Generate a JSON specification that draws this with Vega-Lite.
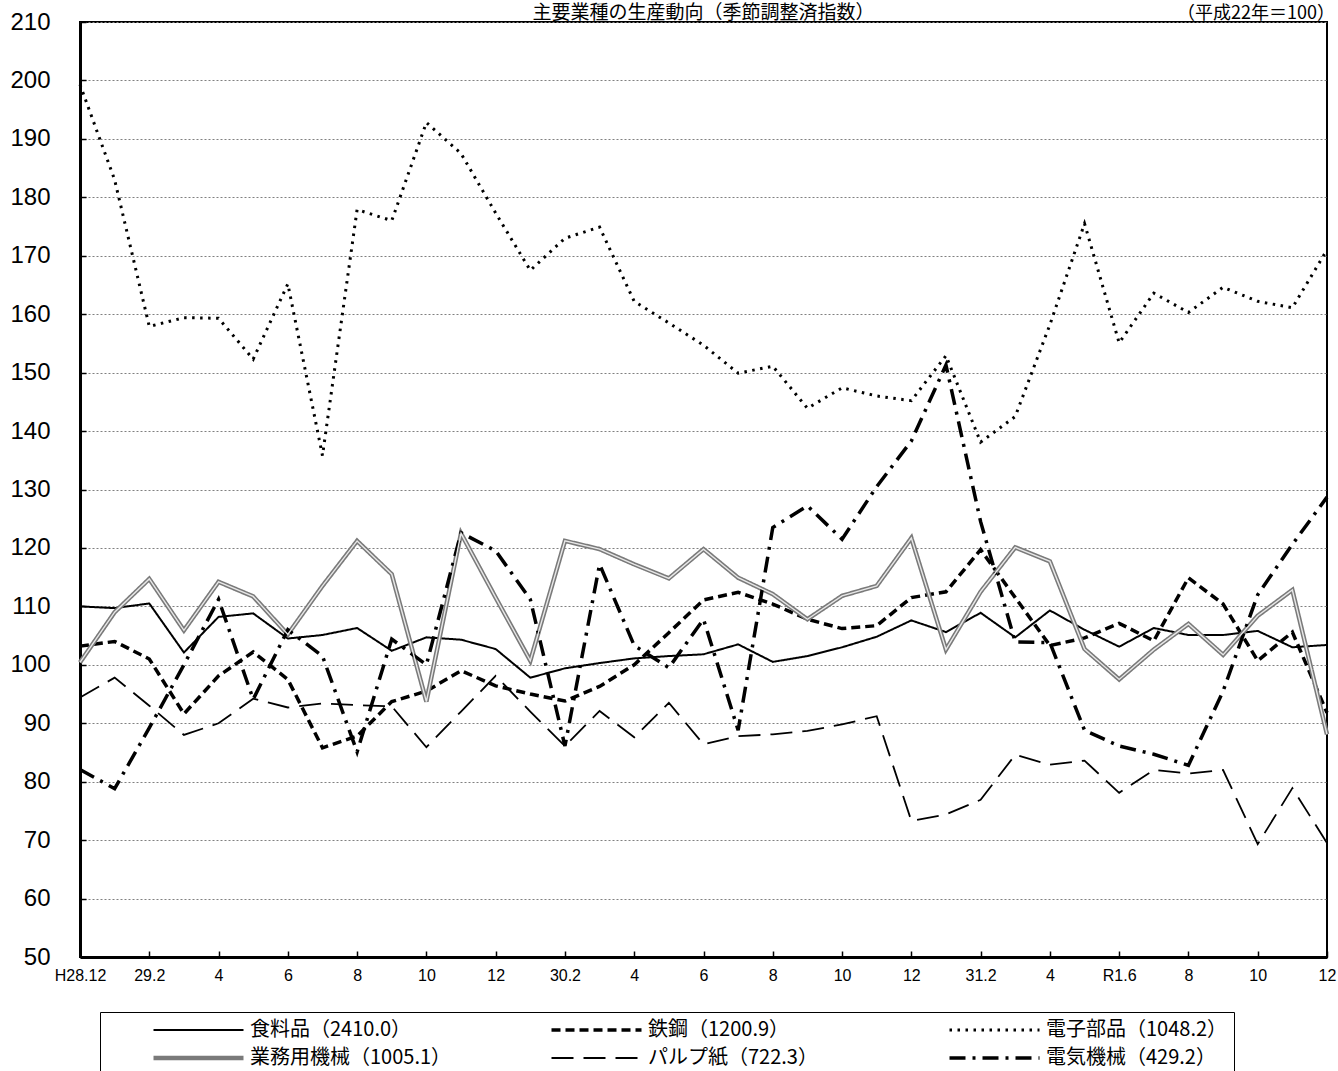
{
  "$schema": "https://vega.github.io/schema/vega-lite/v6.json",
  "width": 1247,
  "height": 935,
  "autosize": "none",
  "padding": {"left": 80, "top": 22, "right": 11, "bottom": 114},
  "background": "white",
  "config": {
    "view": {"stroke": "black", "strokeWidth": 2},
    "font": "Liberation Sans"
  },
  "datasets": {
    "d": [
      {"i": 0, "food": 110.0, "steel": 103.2, "elec": 199.3, "mach": 100.4, "pulp": 94.4, "elmc": 82.1},
      {"i": 1, "food": 109.7, "steel": 104.0, "elec": 183.0, "mach": 109.0, "pulp": 97.8, "elmc": 78.8},
      {"i": 2, "food": 110.5, "steel": 101.0, "elec": 157.9, "mach": 114.7, "pulp": 93.0, "elmc": 89.2},
      {"i": 3, "food": 102.1, "steel": 91.6, "elec": 159.4, "mach": 105.9, "pulp": 88.0, "elmc": 100.0},
      {"i": 4, "food": 108.2, "steel": 98.1, "elec": 159.3, "mach": 114.2, "pulp": 90.0, "elmc": 111.2},
      {"i": 5, "food": 108.8, "steel": 102.2, "elec": 152.3, "mach": 111.7, "pulp": 94.2, "elmc": 94.1},
      {"i": 6, "food": 104.5, "steel": 97.5, "elec": 165.2, "mach": 105.2, "pulp": 92.7, "elmc": 106.0},
      {"i": 7, "food": 105.1, "steel": 85.8, "elec": 135.8, "mach": 113.5, "pulp": 93.4, "elmc": 101.5},
      {"i": 8, "food": 106.3, "steel": 87.8, "elec": 177.9, "mach": 121.2, "pulp": 93.1, "elmc": 85.1},
      {"i": 9, "food": 102.4, "steel": 93.7, "elec": 176.0, "mach": 115.5, "pulp": 92.9, "elmc": 104.4},
      {"i": 10, "food": 104.7, "steel": 95.5, "elec": 192.8, "mach": 93.7, "pulp": 85.9, "elmc": 100.0},
      {"i": 11, "food": 104.3, "steel": 99.0, "elec": 187.5, "mach": 122.5, "pulp": 92.0, "elmc": 122.6},
      {"i": 12, "food": 102.7, "steel": 96.4, "elec": 177.3, "mach": 111.5, "pulp": 98.1, "elmc": 119.5},
      {"i": 13, "food": 97.8, "steel": 95.0, "elec": 167.5, "mach": 100.7, "pulp": 92.0, "elmc": 111.2},
      {"i": 14, "food": 99.4, "steel": 93.8, "elec": 173.0, "mach": 121.2, "pulp": 86.1, "elmc": 86.1},
      {"i": 15, "food": 100.3, "steel": 96.3, "elec": 174.9, "mach": 119.8, "pulp": 92.1, "elmc": 117.2},
      {"i": 16, "food": 101.1, "steel": 100.0, "elec": 162.2, "mach": 117.2, "pulp": 87.6, "elmc": 103.3},
      {"i": 17, "food": 101.5, "steel": 105.5, "elec": 158.5, "mach": 114.8, "pulp": 93.5, "elmc": 99.5},
      {"i": 18, "food": 101.8, "steel": 111.1, "elec": 154.7, "mach": 119.8, "pulp": 86.4, "elmc": 107.8},
      {"i": 19, "food": 103.5, "steel": 112.4, "elec": 149.9, "mach": 114.9, "pulp": 87.8, "elmc": 88.8},
      {"i": 20, "food": 100.5, "steel": 110.4, "elec": 151.1, "mach": 112.1, "pulp": 88.1, "elmc": 123.5},
      {"i": 21, "food": 101.5, "steel": 107.8, "elec": 143.9, "mach": 107.8, "pulp": 88.7, "elmc": 127.2},
      {"i": 22, "food": 103.0, "steel": 106.2, "elec": 147.4, "mach": 111.8, "pulp": 89.8, "elmc": 121.5},
      {"i": 23, "food": 104.8, "steel": 106.7, "elec": 146.0, "mach": 113.5, "pulp": 91.2, "elmc": 130.5},
      {"i": 24, "food": 107.6, "steel": 111.5, "elec": 145.2, "mach": 121.7, "pulp": 73.3, "elmc": 138.3},
      {"i": 25, "food": 105.6, "steel": 112.5, "elec": 152.9, "mach": 102.6, "pulp": 74.4, "elmc": 151.3},
      {"i": 26, "food": 108.9, "steel": 119.7, "elec": 138.1, "mach": 112.5, "pulp": 76.9, "elmc": 124.5},
      {"i": 27, "food": 104.7, "steel": 111.5, "elec": 142.5, "mach": 120.1, "pulp": 84.6, "elmc": 103.9},
      {"i": 28, "food": 109.3, "steel": 103.3, "elec": 158.2, "mach": 117.7, "pulp": 82.9, "elmc": 103.8},
      {"i": 29, "food": 106.0, "steel": 104.6, "elec": 175.5, "mach": 102.7, "pulp": 83.6, "elmc": 88.8},
      {"i": 30, "food": 103.1, "steel": 107.1, "elec": 155.1, "mach": 97.5, "pulp": 78.1, "elmc": 86.1},
      {"i": 31, "food": 106.3, "steel": 104.1, "elec": 163.6, "mach": 102.6, "pulp": 82.0, "elmc": 84.7},
      {"i": 32, "food": 105.1, "steel": 114.9, "elec": 160.3, "mach": 107.0, "pulp": 81.4, "elmc": 82.8},
      {"i": 33, "food": 105.1, "steel": 110.4, "elec": 164.6, "mach": 101.7, "pulp": 82.0, "elmc": 95.5},
      {"i": 34, "food": 105.8, "steel": 100.7, "elec": 162.2, "mach": 108.4, "pulp": 69.3, "elmc": 112.0},
      {"i": 35, "food": 103.0, "steel": 105.6, "elec": 161.1, "mach": 112.8, "pulp": 78.9, "elmc": 120.6},
      {"i": 36, "food": 103.4, "steel": 91.8, "elec": 171.0, "mach": 88.1, "pulp": 69.5, "elmc": 128.7}
    ]
  },
  "layer": [
    {
      "data": {"name": "d"},
      "transform": [{"fold": ["food", "steel", "elec", "mach", "pulp", "elmc"], "as": ["s", "v"]}],
      "mark": {"type": "line", "strokeCap": "butt", "strokeJoin": "miter"},
      "encoding": {
        "x": {
          "field": "i",
          "type": "quantitative",
          "scale": {"domain": [0, 36], "nice": false, "zero": false},
          "axis": {
            "values": [0,1,2,3,4,5,6,7,8,9,10,11,12,13,14,15,16,17,18,19,20,21,22,23,24,25,26,27,28,29,30,31,32,33,34,35,36],
            "labelExpr": "['H28.12','','29.2','','4','','6','','8','','10','','12','','30.2','','4','','6','','8','','10','','12','','31.2','','4','','R1.6','','8','','10','','12'][datum.value]",
            "title": null,
            "grid": false,
            "domainWidth": 3,
            "domainColor": "black",
            "tickColor": "black",
            "tickWidth": 1.5,
            "tickSize": -6,
            "labelFont": "Liberation Sans",
            "labelFontSize": 16,
            "labelColor": "black",
            "labelPadding": 16,
            "labelFlush": false,
            "labelOverlap": false
          }
        },
        "y": {
          "field": "v",
          "type": "quantitative",
          "scale": {"domain": [50, 210], "nice": false, "zero": false},
          "axis": {
            "values": [50,60,70,80,90,100,110,120,130,140,150,160,170,180,190,200,210],
            "title": null,
            "grid": true,
            "gridColor": "#808080",
            "gridDash": [2, 2],
            "gridWidth": 1,
            "domainWidth": 3,
            "domainColor": "black",
            "tickColor": "black",
            "tickWidth": 1.5,
            "tickSize": -6,
            "labelFont": "Liberation Sans",
            "labelFontSize": 24,
            "labelColor": "black",
            "labelPadding": 36,
            "labelBaseline": "middle"
          }
        },
        "color": {
          "field": "s",
          "type": "nominal",
          "scale": {
            "domain": ["food", "steel", "elec", "mach", "pulp", "elmc"],
            "range": ["#000000", "#000000", "#000000", "#7a7a7a", "#000000", "#000000"]
          },
          "legend": {
            "orient": "none",
            "legendX": 20,
            "legendY": 990,
            "direction": "horizontal",
            "columns": 3,
            "title": null,
            "strokeColor": "black",
            "padding": 6,
            "symbolType": "stroke",
            "symbolSize": 8100,
            "symbolOffset": 45,
            "labelOffset": 4,
            "gridAlign": "all",
            "columnPadding": 52,
            "rowPadding": 4,
            "clipHeight": 24,
            "labelFont": "Noto Sans CJK JP",
            "labelFontSize": 20,
            "labelColor": "black",
            "labelLimit": 400,
            "labelExpr": "{'food':'食料品（2410.0）','steel':'鉄鋼（1200.9）','elec':'電子部品（1048.2）','mach':'業務用機械（1005.1）','pulp':'パルプ紙（722.3）','elmc':'電気機械（429.2）'}[datum.label]"
          }
        },
        "strokeDash": {
          "field": "s",
          "type": "nominal",
          "scale": {
            "domain": ["food", "steel", "elec", "mach", "pulp", "elmc"],
            "range": [[1, 0], [9, 5], [2.5, 5.5], [1, 0], [22, 10], [16, 7, 3, 7]]
          }
        },
        "strokeWidth": {
          "field": "s",
          "type": "nominal",
          "scale": {
            "type": "ordinal",
            "domain": ["food", "steel", "elec", "mach", "pulp", "elmc"],
            "range": [2, 3.5, 3, 4.5, 1.8, 3.5]
          }
        }
      }
    },
    {
      "data": {"name": "d"},
      "transform": [{"fold": ["mach"], "as": ["s", "v"]}],
      "mark": {"type": "line", "color": "#e8e8e8", "strokeWidth": 1.4},
      "encoding": {
        "x": {"field": "i", "type": "quantitative"},
        "y": {"field": "v", "type": "quantitative"}
      }
    },
    {
      "data": {"values": [{"t": "主要業種の生産動向（季節調整済指数）", "x": 18}]},
      "mark": {"type": "text", "align": "center", "baseline": "alphabetic", "dy": -3, "font": "Noto Sans CJK JP", "fontSize": 19, "color": "black"},
      "encoding": {
        "x": {"field": "x", "type": "quantitative"},
        "y": {"datum": 210, "type": "quantitative"},
        "text": {"field": "t", "type": "nominal"}
      }
    },
    {
      "data": {"values": [{"t": "（平成22年＝100）", "x": 36}]},
      "mark": {"type": "text", "align": "right", "baseline": "alphabetic", "dx": 8, "dy": -3, "font": "Noto Sans CJK JP", "fontSize": 18, "color": "black"},
      "encoding": {
        "x": {"field": "x", "type": "quantitative"},
        "y": {"datum": 210, "type": "quantitative"},
        "text": {"field": "t", "type": "nominal"}
      }
    }
  ]
}
